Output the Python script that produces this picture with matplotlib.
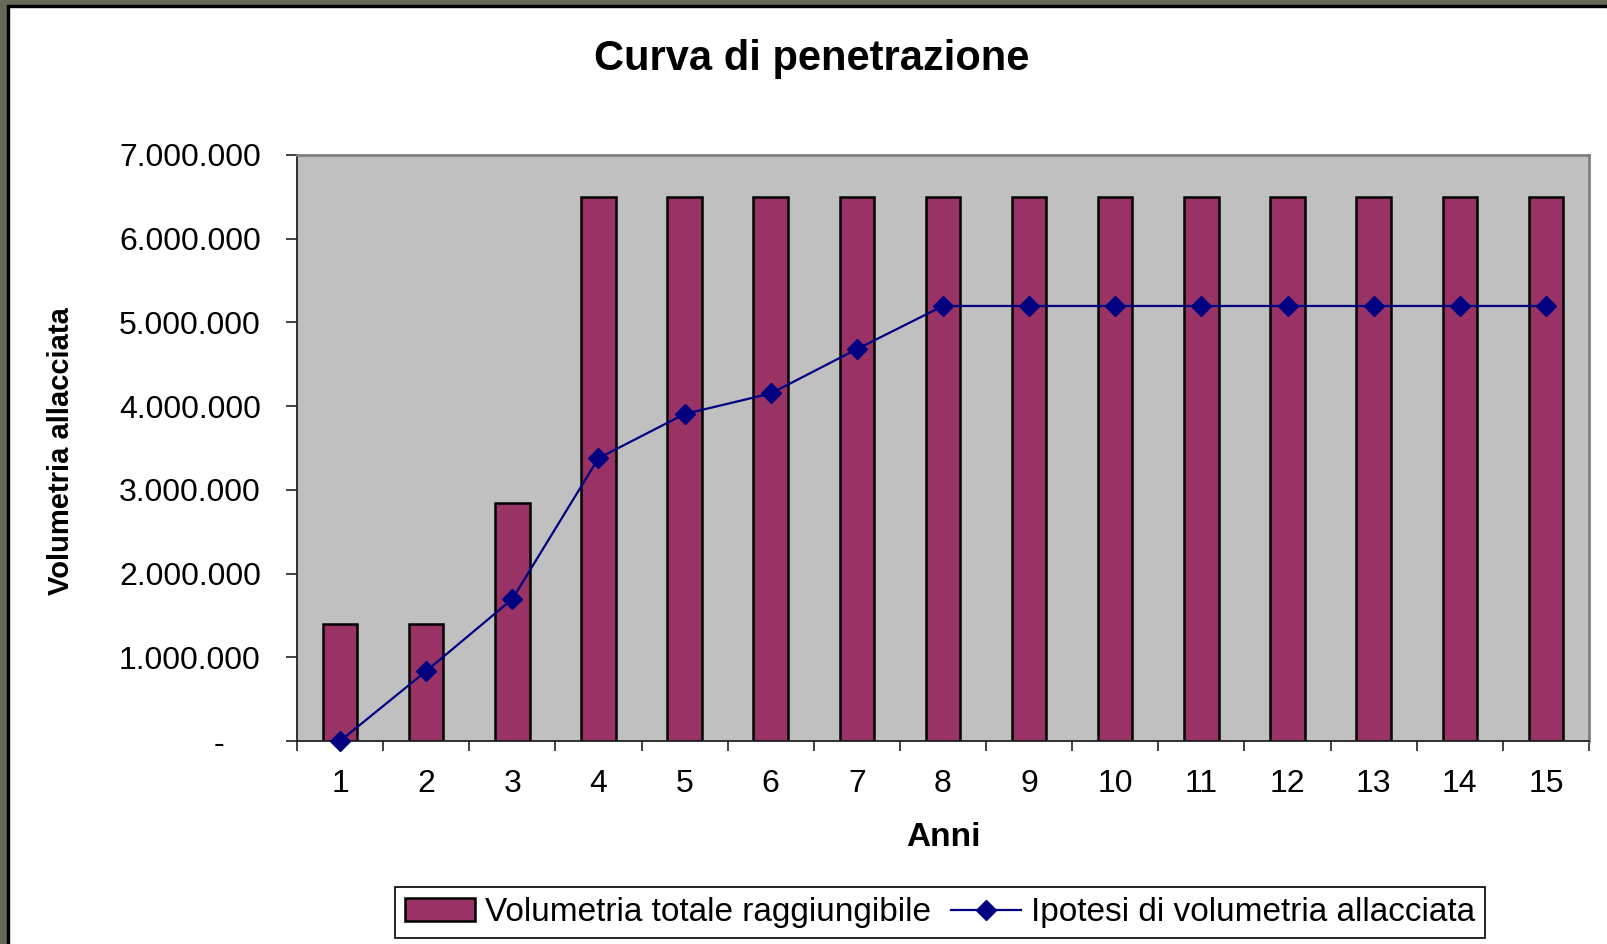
import numpy as np
import matplotlib.pyplot as plt
import matplotlib.transforms as mtransforms
from matplotlib.patches import Rectangle
from matplotlib.ticker import FuncFormatter

plt.rcParams['font.family'] = ['Liberation Sans', 'DejaVu Sans']

# dati
anni = [str(i) for i in range(1, 16)]
volumetria_totale = [1400000, 1400000, 2840000] + [6500000] * 12
volumetria_allacciata = [0, 835000, 1695000, 3377000, 3905000, 4150000, 4680000] + [5195000] * 8

fig = plt.figure(figsize=(16.07, 9.44), dpi=100)
ax = fig.add_axes([0.1848, 0.215, 0.804, 0.621])

x = np.arange(1, len(anni) + 1)
ax.bar(x, volumetria_totale, width=0.4, color='#993366', edgecolor='black', linewidth=1.8,
       label='Volumetria totale raggiungibile', zorder=2)
ax.plot(x, volumetria_allacciata, color='#000080', linewidth=1.6, marker='D', markersize=10,
        label='Ipotesi di volumetria allacciata', zorder=3, clip_on=False)

ax.set_facecolor('#C0C0C0')
ax.set_xlim(0.5, 15.5)
ax.set_ylim(0, 7000000)
ax.set_yticks(np.arange(0, 7000001, 1000000))

def fmt(v, pos):
    if v == 0:
        return '-'
    return f'{int(v):,}'.replace(',', '.')

ax.yaxis.set_major_formatter(FuncFormatter(fmt))
ax.set_xticks(x)
ax.set_xticklabels(anni)
ax.set_xticks(np.arange(0.5, 16, 1), minor=True)
ax.tick_params(axis='x', which='major', length=0, pad=20, labelsize=23)
ax.tick_params(axis='x', which='minor', length=7, width=1.2, color='#222222')
ax.tick_params(axis='y', length=8, width=1.2, color='#222222', pad=18, labelsize=23)

# il trattino dello zero e' spostato a sinistra come nell'originale
zero_lab = ax.yaxis.get_major_ticks()[0].label1
zero_lab.set_transform(zero_lab.get_transform() +
                       mtransforms.ScaledTranslation(-0.37, 0, fig.dpi_scale_trans))

for s in ['top', 'right']:
    ax.spines[s].set_color('#808080')
    ax.spines[s].set_linewidth(2)
for s in ['left', 'bottom']:
    ax.spines[s].set_color('#222222')
    ax.spines[s].set_linewidth(1.3)

fig.text(0.505, 0.937, 'Curva di penetrazione', ha='center', va='center',
         fontsize=30, fontweight='bold')
fig.text(0.038, 0.522, 'Volumetria allacciata', ha='center', va='center',
         rotation=90, fontsize=21, fontweight='bold')
fig.text(0.587, 0.113, 'Anni', ha='center', va='center', fontsize=24, fontweight='bold')

handles, labels = ax.get_legend_handles_labels()
order = [1, 0] if labels[0].startswith('Ipotesi') else [0, 1]
leg = fig.legend([handles[i] for i in order], [labels[i] for i in order],
                 loc='center', bbox_to_anchor=(0.585, 0.033), ncol=2, fontsize=24,
                 frameon=True, fancybox=False, framealpha=1, edgecolor='black',
                 handlelength=2.1, handletextpad=0.3, columnspacing=0.6,
                 borderpad=0.3)
leg.get_frame().set_linewidth(1.2)

# cornice esterna (bordo in alto e a sinistra)
fig.add_artist(Rectangle((0, 1 - 5 / 944), 1, 5 / 944, transform=fig.transFigure,
                         color='#676858', zorder=10))
fig.add_artist(Rectangle((0, 1 - 7 / 944), 1, 2 / 944, transform=fig.transFigure,
                         color='black', zorder=10))
fig.add_artist(Rectangle((0, 0), 7 / 1607, 1, transform=fig.transFigure,
                         color='#676858', zorder=10))
fig.add_artist(Rectangle((7 / 1607, 0), 2 / 1607, 1 - 5 / 944, transform=fig.transFigure,
                         color='black', zorder=10))

fig.savefig('out.png', dpi=100)
